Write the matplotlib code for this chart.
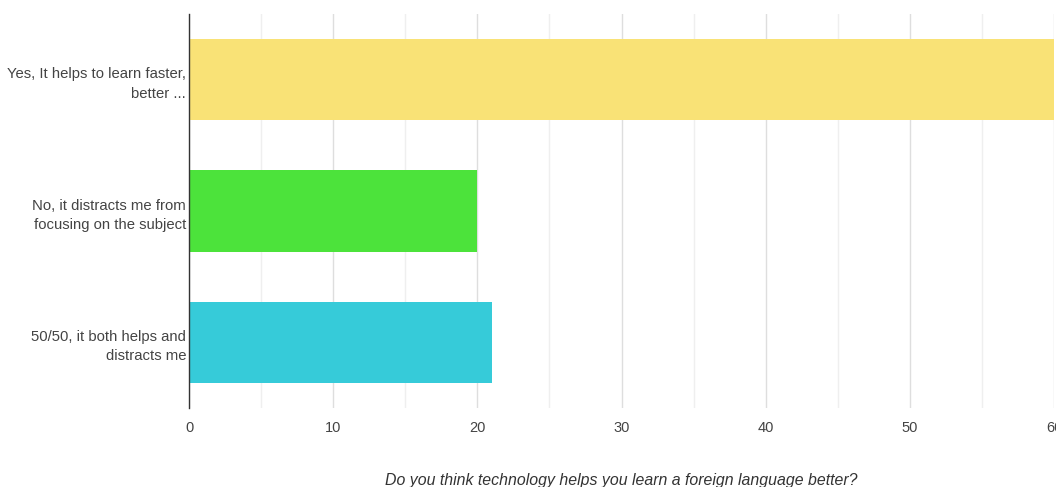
import matplotlib
matplotlib.use("Agg")
import matplotlib.pyplot as plt

categories = ["Yes, It helps to learn faster,\nbetter ...",
              "No, it distracts me from\nfocusing on the subject",
              "50/50, it both helps and\ndistracts me"]
values = [60, 20, 21]
colors = ["#F9E276", "#4CE33B", "#36CBD9"]
xticks = [0, 10, 20, 30, 40, 50, 60]
title = "Do you think technology helps you learn a foreign language better?"

plt.rcParams['font.family'] = ['Liberation Sans', 'DejaVu Sans']

fig = plt.figure(figsize=(10.56, 4.87), dpi=100)
ax = fig.add_axes([189/1056, 1-408/487, 865/1056, 394/487])

ypos = list(range(len(categories)))
ax.barh(ypos, values, height=0.62, color=colors, zorder=3)
ax.set_ylim(2.5, -0.5)
ax.set_xlim(0, 60)
ax.set_yticks(ypos)
ax.set_yticklabels(categories, fontsize=10.7, color="#444444", linespacing=1.5)
ax.set_xticks(xticks)
ax.set_xticklabels([str(t) for t in xticks], fontsize=10.5, color="#444444")
ax.set_xticks([5, 15, 25, 35, 45, 55], minor=True)
ax.tick_params(axis='both', which='both', length=0)
ax.tick_params(axis='x', pad=9)
ax.tick_params(axis='y', pad=2)
ax.grid(axis='x', which='major', color="#dedede", linewidth=1, zorder=0)
ax.grid(axis='x', which='minor', color="#efefef", linewidth=1, zorder=0)
for s in ['top', 'right', 'bottom']:
    ax.spines[s].set_visible(False)
ax.spines['left'].set_color("#333333")
ax.spines['left'].set_linewidth(1)
ax.spines['left'].set_zorder(4)

fig.text((189+1054)/2/1056, 1-481/487, title, ha='center', va='center',
         fontsize=11.4, style='italic', color="#333333")

fig.savefig("out.png", dpi=100)
